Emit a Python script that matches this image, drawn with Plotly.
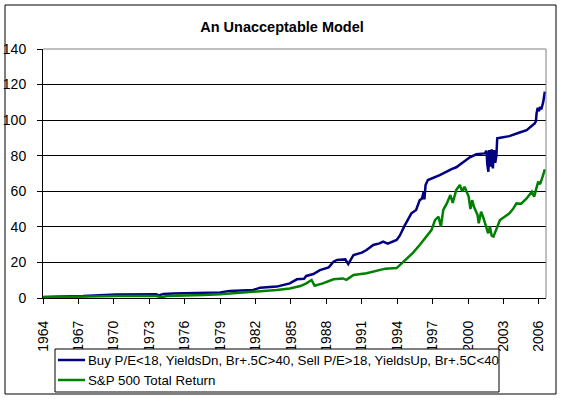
import plotly.graph_objects as go

title_text = "An Unacceptable Model"
name_model = "Buy P/E<18, YieldsDn, Br+.5C>40, Sell P/E>18, YieldsUp, Br+.5C<40"
name_sp = "S&P 500 Total Return"

model_years = [1964.0, 1965.5, 1967.4, 1970.2, 1973.6, 1973.8, 1974.2, 1975.0, 1977.6, 1979.0,
               1979.8, 1981.8, 1982.4, 1983.8, 1984.9, 1985.5, 1986.1, 1986.3, 1986.9, 1987.45,
               1988.2, 1988.6, 1988.9, 1989.6, 1989.85, 1990.3, 1991.0, 1991.4, 1991.97, 1992.5,
               1992.8, 1993.2, 1993.95, 1994.2, 1994.65, 1995.2, 1995.6, 1995.9, 1996.1, 1996.25,
               1996.3, 1996.4, 1996.6, 1997.6, 1998.6, 1999.0, 2000.15, 2000.7, 2001.4, 2001.57,
               2001.62, 2001.72, 2001.8, 2001.9, 2002.0, 2002.1, 2002.2, 2002.3, 2002.4, 2002.47,
               2002.84, 2003.5, 2004.3, 2004.96, 2005.66, 2005.75, 2005.8, 2005.9, 2006.0, 2006.1,
               2006.2, 2006.37, 2006.5]
model_values = [0.6, 0.8, 1.1, 2.0, 2.1, 1.4, 2.3, 2.6, 3.0, 3.1,
                4.0, 4.5, 5.8, 6.4, 8.2, 10.5, 10.8, 12.4, 13.5, 15.7,
                17.2, 20.4, 21.4, 21.7, 19.1, 24.2, 25.5, 27.0, 29.8, 30.7,
                31.7, 30.5, 32.6, 34.9, 41.0, 47.6, 49.5, 55.0, 56.0, 60.0,
                55.5, 63.5, 66.3, 69.1, 72.5, 73.5, 79.1, 80.8, 81.3, 82.8,
                75.7, 71.0, 83.2, 73.8, 83.6, 72.9, 83.2, 76.0, 80.0, 89.8,
                90.3, 91.0, 92.9, 94.4, 98.2, 99.5, 103.8, 107.0, 105.0, 107.5,
                106.0, 110.3, 116.0]

sp_years = [1964.0, 1968.0, 1968.5, 1970.2, 1973.6, 1974.0, 1974.5, 1977.3, 1977.6, 1979.0,
            1980.1, 1981.8, 1983.8, 1984.9, 1985.8, 1986.3, 1986.75, 1987.0, 1987.7, 1988.6,
            1989.4, 1989.7, 1990.3, 1991.4, 1992.5, 1993.0, 1993.95, 1994.5, 1995.35, 1995.9,
            1996.5, 1996.9, 1997.2, 1997.5, 1997.7, 1997.9, 1998.2, 1998.5, 1998.7, 1999.0,
            1999.3, 1999.5, 1999.7, 2000.05, 2000.2, 2000.35, 2000.5, 2000.8, 2000.9, 2001.1,
            2001.3, 2001.57, 2001.7, 2001.85, 2002.0, 2002.15, 2002.4, 2002.7, 2003.1, 2003.5,
            2003.8, 2004.1, 2004.5, 2004.96, 2005.4, 2005.6, 2005.94, 2006.1, 2006.3, 2006.5]
sp_values = [0.4, 1.1, 0.8, 1.1, 1.1, 0.4, 1.1, 1.3, 1.7, 2.1,
             2.6, 3.3, 4.5, 5.4, 6.7, 8.2, 10.1, 6.9, 8.2, 10.5,
             11.0, 10.2, 12.9, 13.9, 15.9, 16.5, 16.8, 20.4, 25.5, 29.8,
             34.5, 38.2, 43.8, 45.7, 40.1, 49.5, 53.2, 57.9, 53.5, 60.7,
             63.5, 60.0, 62.5, 57.0, 50.0, 55.0, 51.3, 46.7, 42.0, 48.5,
             45.0, 39.2, 36.4, 40.0, 35.0, 34.5, 38.5, 43.8, 45.7, 47.6,
             50.0, 53.2, 53.0, 56.0, 59.8, 57.0, 65.4, 64.0, 68.0, 72.3]

year_ticks = list(range(1964, 2007, 3))
y_ticks = list(range(0, 141, 20))

FONT = "Liberation Sans, Arial, sans-serif"
BLUE = "#000080"
GREEN = "#008000"

fig = go.Figure()
fig.add_trace(go.Scatter(x=model_years, y=model_values, mode="lines", name=name_model,
                         line=dict(color=BLUE, width=2.5), showlegend=False))
fig.add_trace(go.Scatter(x=sp_years, y=sp_values, mode="lines", name=name_sp,
                         line=dict(color=GREEN, width=2.5), showlegend=False))

W, H = 563, 399
L, R, T, B = 43, 546, 49, 298
pw, ph = R - L, B - T

def px_x(p):
    return (p - L) / pw

def px_y(p):
    return (B - p) / ph

shapes = [
    dict(type="line", xref="paper", yref="paper", x0=0, x1=1, y0=1, y1=1,
         line=dict(color="#808080", width=1), layer="above"),
    dict(type="line", xref="paper", yref="paper", x0=1, x1=1, y0=0, y1=1,
         line=dict(color="#808080", width=1), layer="above"),
    dict(type="rect", xref="paper", yref="paper", x0=px_x(5), x1=px_x(556),
         y0=px_y(394), y1=px_y(5), line=dict(color="black", width=1),
         fillcolor="rgba(0,0,0,0)", layer="above"),
    # legend box
    dict(type="rect", xref="paper", yref="paper", x0=px_x(55), x1=px_x(499),
         y0=px_y(392), y1=px_y(349), line=dict(color="black", width=1),
         fillcolor="white", layer="above"),
]
annotations = []
legend_items = [(name_model, BLUE, 360), (name_sp, GREEN, 380)]
for label, color, yy in legend_items:
    shapes.append(dict(type="line", xref="paper", yref="paper", x0=px_x(58), x1=px_x(85),
                       y0=px_y(yy), y1=px_y(yy), line=dict(color=color, width=2.5),
                       layer="above"))
    annotations.append(dict(text=label, xref="paper", yref="paper", x=px_x(86), y=px_y(yy),
                            xanchor="left", yanchor="middle", showarrow=False,
                            font=dict(size=13.3, family=FONT, color="black")))

fig.update_layout(
    width=W, height=H,
    margin=dict(l=L, r=W - R, t=T, b=H - B, pad=0, autoexpand=False),
    paper_bgcolor="white", plot_bgcolor="white",
    font=dict(family=FONT, size=14, color="black"),
    title=dict(text="<b>" + title_text + "</b>", x=282 / W, xanchor="center",
               y=1 - 27 / H, yanchor="middle", font=dict(size=14.5, family=FONT)),
    showlegend=False,
    xaxis=dict(range=[1964, 2006.6], tickvals=year_ticks, ticktext=[str(t) for t in year_ticks],
               tickangle=-90, ticks="outside", ticklen=5, tickcolor="black",
               showline=True, linecolor="black", linewidth=1, showgrid=False,
               zeroline=False, tickfont=dict(size=14), ticklabelstandoff=11, automargin=False),
    yaxis=dict(range=[0, 140], tickvals=y_ticks, ticks="outside", ticklen=5, tickcolor="black",
               showline=True, linecolor="black", linewidth=1, showgrid=True,
               gridcolor="black", gridwidth=1, zeroline=False, tickfont=dict(size=14),
               ticklabelstandoff=8, automargin=False),
    shapes=shapes,
    annotations=annotations,
)

fig.write_html("out.html", config={"displayModeBar": False},
               post_script="document.body.style.margin='0px';")
